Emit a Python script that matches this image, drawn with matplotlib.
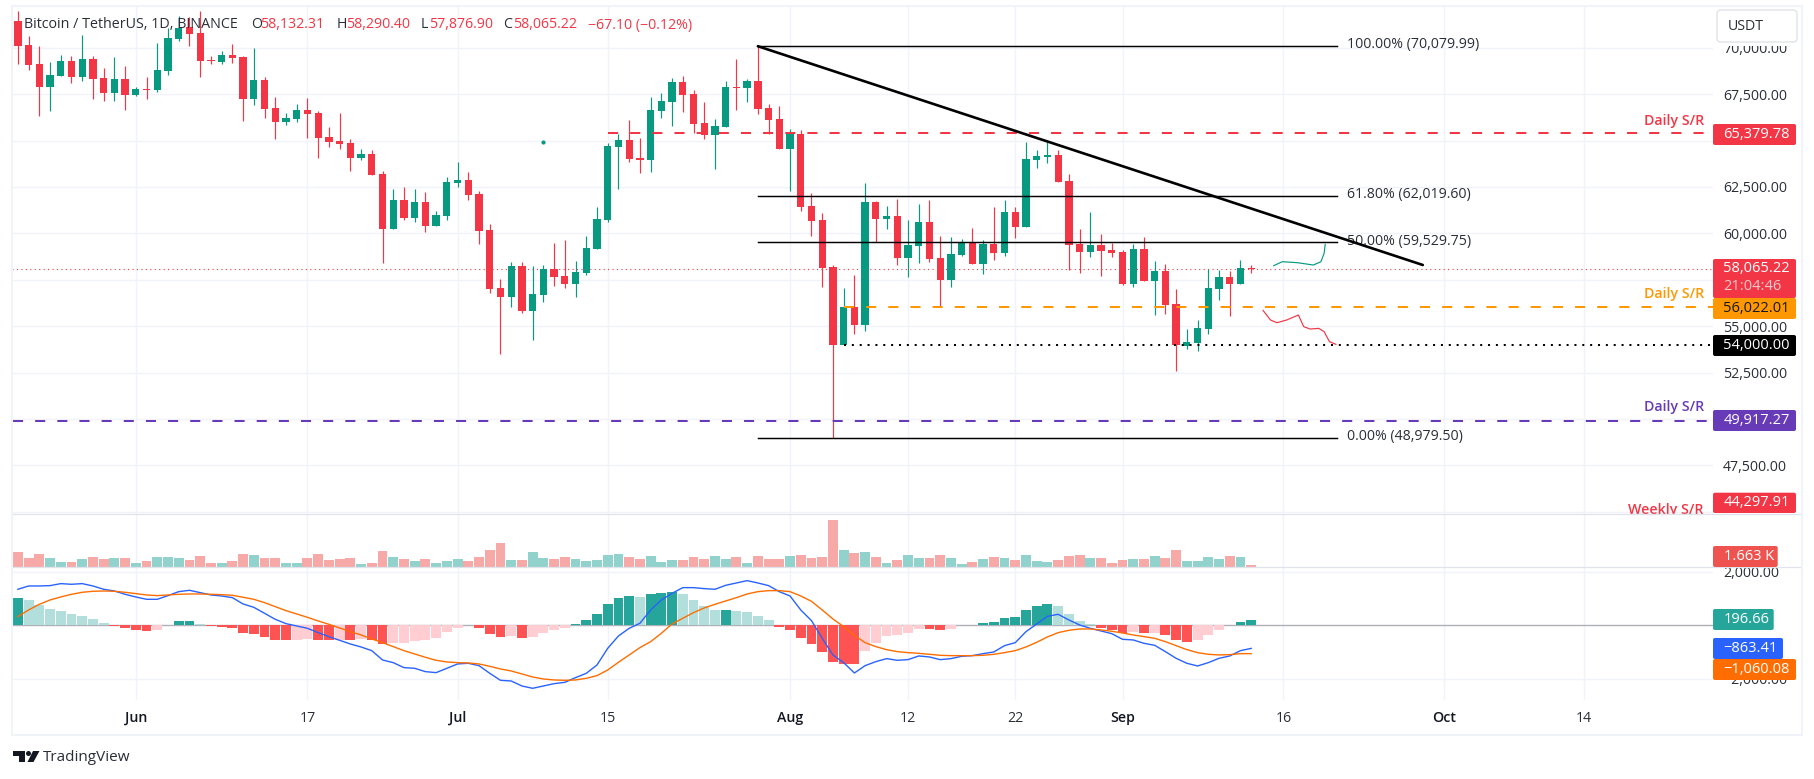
import matplotlib
matplotlib.use("Agg")
import matplotlib.pyplot as plt
from matplotlib.patches import Rectangle, FancyBboxPatch, Polygon, Circle
from matplotlib.lines import Line2D
from matplotlib.transforms import Affine2D

plt.rcParams['font.family'] = ['Open Sans', 'DejaVu Sans']

# ---------- data ----------
OPEN = [71437,70144,69120,67881,68474,69282,68420,69390,68366,67558,68312,67451,67774,67720,68743,70467,71132,70790,69336,69228,
        69605,69498,67235,68259,66750,65996,66158,66643,66481,65188,64973,64865,64057,64272,63195,60232,61794,60825,61687,60394,
        60933,62710,62872,62118,60178,57054,56569,58239,55815,56677,58077,57700,57270,57862,59155,60717,64649,65026,64057,63949,
        66589,67073,68151,67504,65942,65296,65727,67881,67828,68205,66750,66158,64542,65350,61471,60717,58185,53984,56031,55061,
        61687,60771,60932,58670,59316,60609,58670,57485,58832,59514,58347,59424,58939,61148,60340,63949,64111,64218,62818,59424,
        58993,59370,59101,58993,57270,59155,57431,57970,56192,53948,54091,54845,57000,57647,57270,58132]
HIGH = [71975,70629,70090,69228,69605,69551,70683,69551,68905,69498,69013,67881,68420,70252,71042,71706,71634,71975,69551,69821,
        70198,69551,69982,68420,67343,66481,66966,67289,66589,65727,66481,65080,64542,64488,63357,62387,62495,62387,62225,61202,
        63033,63841,63303,62279,60502,57539,58455,58455,58239,58293,59478,59640,58508,59855,61417,64847,65350,66104,65134,67343,
        67558,68366,68474,67720,67073,66158,68205,69390,68312,70080,66966,66858,65619,65565,62171,61094,58293,57054,57754,62710,
        61741,61471,61848,60717,61579,61794,59855,59801,59694,60286,59640,61417,61794,61417,64919,64488,64919,64488,63195,60232,
        61148,59963,59478,59101,59424,59801,58508,58347,57000,54845,55330,58060,58024,57970,58562,58290]
LOW = [69120,68797,66319,66589,68474,68097,68205,67235,67127,67127,66643,67397,67235,67612,68528,70359,70090,68420,69120,69120,
       69174,66050,66912,66212,65080,65835,65996,65134,64057,64649,64542,63357,63949,63141,58401,60232,60717,60609,60071,60394,
       60717,62495,61794,59424,56785,53499,56031,55707,54253,56300,57162,57054,56569,57754,59155,60609,62387,63841,63249,63303,
       66212,65781,66535,65404,65080,63464,65727,66643,67073,66427,65350,64542,62279,61202,59855,57108,48980,53984,54576,54738,
       59532,60232,58293,57647,58401,58455,56031,57108,58778,58347,57808,58562,58778,59747,60340,63518,63788,62764,58024,57862,
       58724,57700,58724,57216,57108,57431,55600,55653,52583,53768,53660,54576,56408,55546,57270,57877]
CLOSE = [70090,69067,67881,68528,69282,68420,69390,68312,67558,68312,67451,67774,67720,68797,70521,71042,70736,69282,69282,69605,
         69444,67235,68259,66696,65996,66212,66643,66427,65134,64919,64811,64057,64272,63141,60232,61794,60825,61687,60394,60986,
         62764,62872,62064,60124,57000,56569,58239,55815,56731,58077,57647,57270,57916,59209,60771,64703,65026,64003,63949,66643,
         67127,68151,67451,65888,65296,65781,67881,67828,68205,66696,66104,64542,65350,61417,60663,58131,53984,56031,55061,61687,
         60771,60932,58670,59370,60609,58616,57485,58886,59514,58347,59424,58939,61148,60340,64003,64165,64218,62764,59370,58993,
         59370,59047,58939,57270,59155,57431,57970,56138,53984,54145,54899,57054,57647,57270,58132,58065]

VOLUME_K = [10.9,6.65,9.5,6.65,3.8,3.8,5.9,7.4,5.9,6.65,6.65,3.1,4.5,7.4,7.4,6.65,5.2,8.1,3.1,3.1,
            4.5,9.5,8.8,6.65,6.65,3.1,3.1,6.65,9.5,5.2,5.9,6.65,2.4,3.1,11.6,7.4,5.9,4.5,5.9,3.1,
            4.5,5.9,4.5,7.4,12.4,17.3,5.2,5.2,10.9,6.65,5.9,7.4,5.9,4.5,5.2,8.8,9.5,7.4,5.9,8.1,
            3.8,5.2,5.2,7.4,5.9,8.1,5.9,7.4,3.1,8.1,5.9,5.9,8.1,8.8,6.65,7.4,33.7,12.4,10.2,10.9,
            7.4,3.1,5.2,8.8,6.65,6.65,8.8,6.65,2.4,3.8,5.9,7.4,6.65,5.2,8.8,4.5,3.8,5.2,8.1,8.8,
            6.65,6.65,3.1,5.2,5.9,5.9,8.1,6.65,12.4,4.5,4.5,7.4,5.9,8.1,7.4,1.663]

MACD = [1346,1470,1470,1483,1558,1533,1558,1470,1346,1283,1159,1059,972,972,1109,1258,1308,1221,1134,1096,
        1034,797,673,449,224,62,-25,-112,-274,-424,-561,-698,-810,-947,-1296,-1396,-1582,-1607,-1732,-1769,
        -1607,-1445,-1420,-1508,-1794,-2056,-2081,-2268,-2355,-2268,-2181,-2131,-1956,-1794,-1483,-860,-399,-112,75,573,
        947,1196,1408,1408,1371,1346,1495,1582,1670,1582,1483,1258,1096,573,174,-486,-1109,-1396,-1782,-1508,
        -1358,-1246,-1308,-1283,-1146,-1184,-1283,-1246,-1159,-1134,-1059,-997,-760,-648,-237,50,336,411,199,12,
        -112,-212,-312,-523,-548,-673,-748,-984,-1234,-1420,-1520,-1396,-1234,-1146,-947,-863]
SIGNAL = [324,573,785,947,1059,1159,1234,1271,1283,1271,1234,1184,1134,1109,1134,1159,1171,1171,1159,1146,
          1121,1047,972,847,698,548,424,299,162,37,-100,-237,-361,-511,-648,-797,-947,-1072,-1196,-1308,
          -1371,-1396,-1408,-1445,-1533,-1632,-1707,-1819,-1931,-2006,-2043,-2056,-2043,-1981,-1881,-1670,-1383,-1109,-835,-611,
          -299,50,262,473,648,785,910,1034,1171,1258,1296,1296,1258,1096,897,573,237,-50,-374,-648,
          -797,-910,-984,-1022,-1047,-1084,-1121,-1134,-1134,-1134,-1121,-1084,-1022,-947,-810,-635,-436,-274,-187,-137,
          -137,-174,-224,-287,-361,-424,-486,-611,-760,-910,-1022,-1084,-1109,-1096,-1059,-1060]
HIST = [1022,947,760,611,536,424,349,237,87,-12,-100,-174,-212,-174,-5,150,162,50,-25,-62,
        -100,-287,-324,-436,-548,-548,-548,-511,-548,-548,-548,-548,-511,-548,-698,-660,-660,-586,-548,-473,
        -249,-100,-5,-100,-324,-436,-399,-473,-436,-287,-174,-100,50,199,424,797,1022,1096,1059,1171,
        1209,1246,1171,947,723,573,573,536,498,349,199,-62,-174,-473,-698,-997,-1371,-1445,-1445,-959,
        -660,-399,-361,-287,-137,-137,-174,-137,-5,5,87,125,274,312,573,723,797,723,424,162,
        50,-100,-174,-287,-249,-287,-287,-361,-548,-623,-548,-361,-174,-5,125,197]
HIST_KIND = list("g"+"l"*8+"r"+"rrr"+"pp"+"gg"+"l"+"r"*8+"pp"+"rr"+"p"+"r"+"p"+"rr"+"p"*8+"rrr"+"p"+"r"+"pppp"+"g"*6+"l"+"ggg"+"llll"+"g"+"llll"
                 +"r"*8+"p"*6+"rr"+"pp"+"l"+"g"*7+"llll"+"rrr"+"p"+"r"+"p"+"rrr"+"pppp"+"gg")

DAYS = list(range(-11, 105))            # days from 1 June

DATE_TICKS = [0, 16, 30, 44, 61, 72, 82, 92, 107, 122, 135]
DATE_LABELS = ["Jun", "17", "Jul", "15", "Aug", "12", "22", "Sep", "16", "Oct", "14"]
MONTH_LABELS = {"Jun", "Jul", "Aug", "Sep", "Oct"}
PRICE_TICKS = [45000, 47500, 50000, 52500, 55000, 57500, 60000, 62500, 65000, 67500, 70000]
PRICE_LABELLED = [47500, 52500, 55000, 60000, 62500, 67500, 70000]
MACD_TICKS = [2000, -2000]

FIB_LEVELS = [70079.99, 62019.60, 59529.75, 48979.50]
FIB_NAMES = ["100.00% (70,079.99)", "61.80% (62,019.60)", "50.00% (59,529.75)", "0.00% (48,979.50)"]
FIB_DAYS = [58, 112]
TREND_DAYS = [58, 120]
TREND_PRICES = [70079.99, 58295]
RES_RED, SUP_ORANGE, SUP_BLACK, SUP_PURPLE = 65379.78, 56022.01, 54000.00, 49917.27
LAST_PRICE = 58065.22
UP_PATH_D = [106.1, 106.9, 108.3, 109.8, 110.5, 110.8, 110.9]
UP_PATH_P = [58257, 58472, 58419, 58293, 58472, 58921, 59406]
DOWN_PATH_D = [105.1, 105.8, 106.4, 107.3, 108.4, 108.9, 109.5, 110.3, 110.8, 111.3, 111.9]
DOWN_PATH_P = [55851, 55330, 55187, 55330, 55600, 54971, 54845, 54881, 54702, 54163, 54019]

# ---------- layout ----------
W, H = 1815, 779
fig = plt.figure(figsize=(W / 100, H / 100), dpi=100, facecolor="white")
px = Affine2D().scale(1, -1).translate(0, H)

L_X, R_X = 12.5, 1713
PANES = {"price": (5.5, 514), "vol": (514, 567.3), "macd": (567.3, 700)}
XLIM = (-11.5, 147.06)


def make_ax(name):
    y0, y1 = PANES[name]
    ax = fig.add_axes([L_X / W, 1 - y1 / H, (R_X - L_X) / W, (y1 - y0) / H])
    for s in ax.spines.values():
        s.set_visible(False)
    ax.set_xlim(*XLIM)
    ax.set_xticks(DATE_TICKS)
    ax.set_axisbelow(True)
    ax.grid(True, color="#f0f3fa", lw=1.0)
    ax.tick_params(length=0, labelbottom=False, labelleft=False)
    ax.patch.set_alpha(0)
    return ax


GREEN, RED = "#089981", "#f23645"
INK = "#2a2e39"
NUM = 10.2

# price pane
ax = make_ax("price")
ax.set_ylim(44881, 72273)
ax.yaxis.tick_right()
ax.set_yticks(PRICE_TICKS)
ax.set_yticklabels([f"{p:,.2f}" if p in PRICE_LABELLED else "" for p in PRICE_TICKS], fontsize=NUM, color=INK)
ax.tick_params(axis="y", pad=7.2, length=0, labelright=True)
ax.axhline(LAST_PRICE, color=RED, lw=0.8, ls=(0, (1, 3)), zorder=1)
cols = [GREEN if c >= o and not (o == 58132 and c == 58065) else RED for o, c in zip(OPEN, CLOSE)]
ax.vlines(DAYS, LOW, HIGH, colors=cols, lw=0.85, zorder=2)
ax.bar(DAYS, [abs(c - o) for o, c in zip(OPEN, CLOSE)], bottom=[min(o, c) for o, c in zip(OPEN, CLOSE)],
       width=0.68, color=cols, linewidth=0, zorder=3)
ax.plot([38], [64901], marker="o", ms=2, color=GREEN, zorder=3)

for lev in FIB_LEVELS:
    ax.plot(FIB_DAYS, [lev, lev], color="black", lw=1.05, zorder=5)
ax.plot(TREND_DAYS, TREND_PRICES, color="black", lw=1.9, zorder=6, solid_capstyle="round")
dash = (0, (5, 6))
ax.plot([44, XLIM[1]], [RES_RED] * 2, color=RED, lw=1.45, ls=dash, zorder=5)
ax.plot([66, XLIM[1]], [SUP_ORANGE] * 2, color="#ff9800", lw=1.45, ls=dash, zorder=5)
ax.plot([XLIM[0], XLIM[1]], [SUP_PURPLE] * 2, color="#673ab7", lw=1.45, ls=dash, zorder=5)
ax.plot([66, XLIM[1]], [SUP_BLACK] * 2, color="black", lw=1.45, ls=(0, (1, 2.9)), zorder=5)
ax.plot(UP_PATH_D, UP_PATH_P, color=GREEN, lw=0.85, zorder=5)
ax.plot(DOWN_PATH_D, DOWN_PATH_P, color=RED, lw=0.85, zorder=5)

for lev, name, dy in zip(FIB_LEVELS, FIB_NAMES, [-1.5, -1.5, -0.5, -1.5]):
    ax.annotate(name, (112, lev), xytext=(7, -dy * 0.72), textcoords="offset points", va="center", ha="left",
                fontsize=NUM, color=INK, zorder=5)

for y, c, s in [(120.7, RED, "Daily S/R"), (294, "#ff9800", "Daily S/R"), (406.7, "#673ab7", "Daily S/R")]:
    fig.text(1704, y, s, transform=px, ha="right", va="center", fontsize=NUM, color=c, fontweight="semibold", zorder=7)
ax.text(1704, 510, "Weekly S/R", transform=px, ha="right", va="center", fontsize=NUM, color=RED,
        fontweight="semibold", clip_on=True, zorder=7)

# volume pane
vax = make_ax("vol")
vax.set_ylim(0, 38)
vax.set_yticks([])
vcols = ["#92d2cc" if c == GREEN else "#f7a9a7" for c in cols]
vax.bar(DAYS, VOLUME_K, width=0.92, color=vcols, linewidth=0, zorder=2)

# MACD pane
max_ = make_ax("macd")
max_.set_ylim(-2792, 2168)
max_.yaxis.tick_right()
max_.set_yticks(MACD_TICKS)
max_.set_yticklabels(["2,000.00", "\u22122,000.00"], fontsize=NUM, color=INK)
max_.tick_params(axis="y", pad=7.2, length=0, labelright=True)
max_.axhline(0, color="#aeb1b8", lw=1.0, zorder=1)
KIND_COL = {"g": "#26a69a", "l": "#b2dfdb", "r": "#ff5252", "p": "#ffcdd2"}
max_.bar(DAYS, HIST, width=0.92, color=[KIND_COL[k] for k in HIST_KIND], linewidth=0, zorder=2)
max_.plot(DAYS, MACD, color="#2962ff", lw=1.0, zorder=3)
max_.plot(DAYS, SIGNAL, color="#ff6d00", lw=1.0, zorder=4)
max_.set_xticklabels(DATE_LABELS)
max_.tick_params(axis="x", labelbottom=True, pad=8, length=0)
for t in max_.get_xticklabels():
    t.set_fontsize(NUM)
    t.set_color("#131722" if t.get_text() in MONTH_LABELS else INK)
    if t.get_text() in MONTH_LABELS:
        t.set_fontweight("semibold")

# ---------- frame and separators ----------
fig.add_artist(Rectangle((1713.5, 514.5), 87, 52.3, transform=px, fc="white", ec="none", zorder=5))
fig.add_artist(Rectangle((1713.5, 6), 87, 40, transform=px, fc="white", ec="none", zorder=5))
fig.add_artist(Rectangle((12, 5.5), 1789.5, 729.5, transform=px, fc="none", ec="#f0f3fa", lw=1.5, zorder=9))
for y in (514, 567.3):
    fig.add_artist(Line2D([12, 1801], [y, y], transform=px, color="#e0e3eb", lw=0.9, zorder=6))


def label(y0, y1, x1, color, text, tcolor="white"):
    fig.add_artist(FancyBboxPatch((1713, y0), x1 - 1713, y1 - y0, boxstyle="round,pad=0,rounding_size=2",
                                  transform=px, fc=color, ec="none", zorder=7))
    fig.text(1723.5, (y0 + y1) / 2, text, transform=px, ha="left", va="center", fontsize=NUM + 0.3, color=tcolor,
             fontweight="medium", zorder=8)


label(124, 145, 1796, RED, "65,379.78")
label(259, 298, 1796, RED, "")
fig.text(1723.5, 268.5, "58,065.22", transform=px, ha="left", va="center", fontsize=NUM + 0.3, color="white", fontweight="medium", zorder=8)
fig.text(1723.5, 286.5, "21:04:46", transform=px, ha="left", va="center", fontsize=NUM + 0.3, color="#fbc9cd", fontweight="medium", zorder=8)
label(298, 319, 1796, "#ff9800", "56,022.01", "#131722")
label(335, 356, 1796, "black", "54,000.00")
label(410, 431, 1796, "#673ab7", "49,917.27")
label(492.7, 513, 1796, RED, "44,297.91")
label(546, 567, 1777.7, "#ef5350", "1.663 K")
label(609, 630, 1773.7, "#26a69a", "196.66")
label(638, 659, 1783, "#2962ff", "\u2212863.41")
label(659, 680, 1796, "#ff6d00", "\u22121,060.08")

fig.add_artist(FancyBboxPatch((1717, 10), 80, 32, boxstyle="round,pad=0,rounding_size=4", transform=px,
                              fc="white", ec="#e0e3eb", lw=1, zorder=7))
fig.text(1728, 26, "USDT", transform=px, ha="left", va="center", fontsize=NUM, color=INK, zorder=8)

# ---------- header ----------
HEAD_Y = 25
fig.text(23.7, HEAD_Y, "Bitcoin / TetherUS, 1D, BINANCE", transform=px, va="center", fontsize=10.3, color=INK, zorder=8)
for xl, tl, xv, tv in [(251, "O", 260, "58,132.31"), (337, "H", 346, "58,290.40"), (421, "L", 428.6, "57,876.90"), (503, "C", 513, "58,065.22")]:
    fig.text(xl, HEAD_Y, tl, transform=px, va="center", fontsize=NUM, color=INK, zorder=8)
    fig.text(xv, HEAD_Y, tv, transform=px, va="center", fontsize=NUM, color=RED, zorder=8)
fig.text(588, HEAD_Y, "\u221267.10 (\u22120.12%)", transform=px, va="center", fontsize=NUM, color=RED, zorder=8)

# ---------- logo ----------
LOGO = "#131722"
fig.add_artist(Polygon([(13.3, 751), (24.5, 751), (24.5, 762), (19, 762), (19, 756), (13.3, 756)], closed=True,
                       transform=px, fc=LOGO, ec="none", zorder=8))
fig.add_artist(Polygon([(33, 751), (39.5, 751), (33.5, 762), (27.5, 762)], closed=True, transform=px, fc=LOGO, ec="none", zorder=8))
fig.add_artist(Circle((28.5, 753.5), 2.5, transform=px, fc=LOGO, ec="none", zorder=8))
fig.text(43, 757.5, "TradingView", transform=px, va="center", fontsize=11, color="#2a2e39", zorder=8)

fig.savefig("out.png", dpi=100)
